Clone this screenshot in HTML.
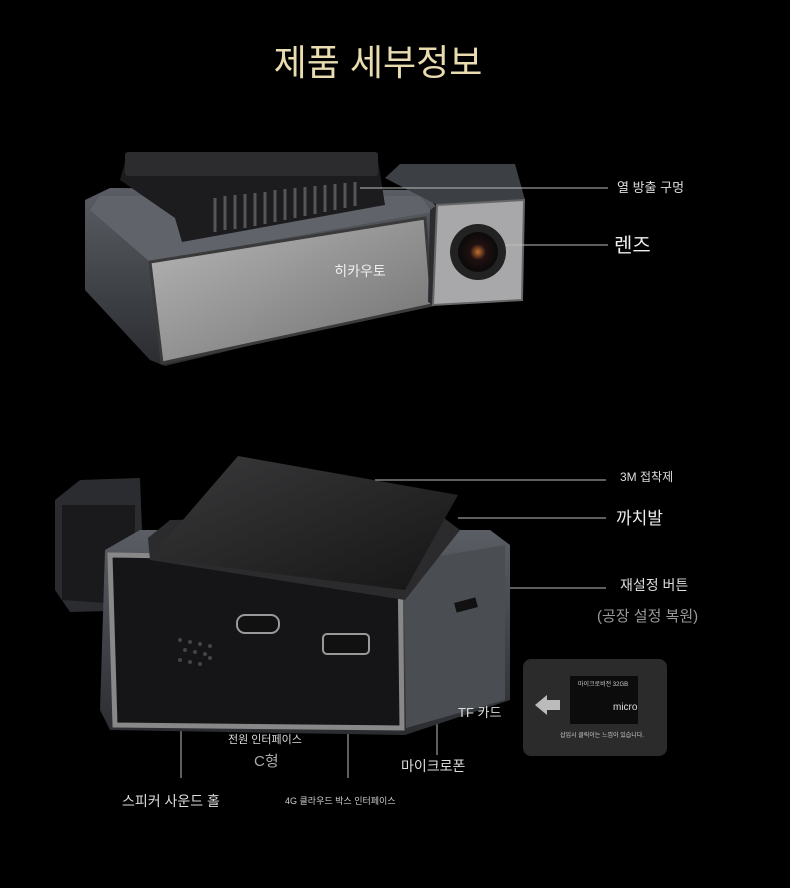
<!DOCTYPE html>
<html><head><meta charset="utf-8"><style>
body{margin:0;background:#000;width:790px;height:888px;overflow:hidden;font-family:"Liberation Sans","Noto Sans CJK KR",sans-serif}
svg{position:absolute;left:0;top:0}
</style></head><body>
<svg width="790" height="888" viewBox="0 0 790 888" font-family="Liberation Sans, Noto Sans CJK KR, sans-serif">
<defs>
<linearGradient id="sil" x1="0" y1="0" x2="1" y2="1"><stop offset="0" stop-color="#b8b8b8"/><stop offset="1" stop-color="#6e6e6e"/></linearGradient>
<linearGradient id="body" x1="0" y1="0" x2="0" y2="1"><stop offset="0" stop-color="#5a5e64"/><stop offset="1" stop-color="#2a2c30"/></linearGradient>
<linearGradient id="pad" x1="0" y1="0" x2="1" y2="1"><stop offset="0" stop-color="#3a3a3c"/><stop offset="1" stop-color="#151515"/></linearGradient>
<radialGradient id="lens"><stop offset="0" stop-color="#c07030"/><stop offset="0.4" stop-color="#201010"/><stop offset="1" stop-color="#0a0a0a"/></radialGradient>
</defs>
<text x="378" y="75" fill="#e8dcb0" font-size="36" text-anchor="middle">제품 세부정보</text>

<!-- top camera -->
<polygon points="85,200 110,188 420,190 440,210 432,302 165,366 150,360 85,290" fill="url(#body)"/>
<polygon points="100,196 420,196 432,212 150,262 90,210" fill="#60646a"/>
<polygon points="120,180 125,162 378,160 385,205 182,242 175,218" fill="#1c1c1e"/>
<rect x="125" y="152" width="253" height="24" fill="#2c2c2e" rx="3"/>
<g stroke="#555" stroke-width="3">
<line x1="215" y1="198" x2="215" y2="232"/><line x1="225" y1="196" x2="225" y2="230"/><line x1="235" y1="195" x2="235" y2="229"/><line x1="245" y1="194" x2="245" y2="228"/><line x1="255" y1="193" x2="255" y2="226"/><line x1="265" y1="192" x2="265" y2="224"/><line x1="275" y1="190" x2="275" y2="222"/><line x1="285" y1="189" x2="285" y2="220"/><line x1="295" y1="188" x2="295" y2="218"/><line x1="305" y1="187" x2="305" y2="216"/><line x1="315" y1="186" x2="315" y2="214"/><line x1="325" y1="185" x2="325" y2="212"/><line x1="335" y1="184" x2="335" y2="210"/><line x1="345" y1="183" x2="345" y2="208"/><line x1="355" y1="182" x2="355" y2="206"/>
</g>
<polygon points="150,262 425,218 432,305 162,363" fill="url(#sil)" stroke="#3a3a3a" stroke-width="3"/>
<polygon points="385,178 400,164 515,164 525,200 437,205" fill="#3c3f44"/>
<polygon points="430,210 437,205 433,305 428,302" fill="#2a2c30"/>
<polygon points="437,205 524,200 522,300 433,305" fill="#a8a8aa" stroke="#666" stroke-width="2"/>
<circle cx="478" cy="252" r="28" fill="#222"/><circle cx="478" cy="252" r="20" fill="url(#lens)"/>
<text x="360" y="276" fill="#eee" font-size="14" text-anchor="middle">히카우토</text>
<g stroke="#bbb" stroke-width="1" fill="none">
<line x1="360" y1="188" x2="608" y2="188"/><line x1="505" y1="245" x2="608" y2="245"/>
<line x1="375" y1="480" x2="606" y2="480"/><line x1="458" y1="518" x2="606" y2="518"/><line x1="500" y1="588" x2="606" y2="588"/>
<line x1="181" y1="650" x2="181" y2="778"/><line x1="269" y1="630" x2="269" y2="720"/><line x1="348" y1="655" x2="348" y2="778"/>
<line x1="437" y1="630" x2="437" y2="755"/><line x1="481" y1="620" x2="481" y2="700"/>
</g>
<text x="617" y="192" fill="#ddd" font-size="13">열 방출 구멍</text>
<text x="614" y="252" fill="#eee" font-size="20">렌즈</text>

<!-- bottom camera -->
<polygon points="55,500 80,480 140,478 145,610 70,612 55,590" fill="#2a2c30"/>
<polygon points="62,505 135,505 135,605 62,600" fill="#1a1a1c"/>
<polygon points="105,550 140,530 490,530 510,545 510,700 405,735 110,730 100,710" fill="url(#body)"/>
<polygon points="110,555 400,560 402,728 115,725" fill="#151517" stroke="#888" stroke-width="5"/>
<polygon points="404,562 505,545 505,700 406,728" fill="#4a4d52"/>
<rect x="455" y="600" width="22" height="10" fill="#111" transform="rotate(-15 466 605)"/>
<polygon points="148,538 170,520 440,515 460,530 405,600 150,560" fill="#2b2b2d"/>
<line x1="170" y1="550" x2="395" y2="568" stroke-dasharray="2,3" stroke-width="10" stroke="#555"/>
<polygon points="238,456 458,495 405,590 150,558" fill="url(#pad)"/>
<rect x="237" y="615" width="42" height="18" rx="8" fill="#111" stroke="#999" stroke-width="2"/>
<rect x="323" y="634" width="46" height="20" rx="4" fill="#111" stroke="#999" stroke-width="2"/>
<g fill="#444"><circle cx="180" cy="640" r="2"/><circle cx="190" cy="642" r="2"/><circle cx="200" cy="644" r="2"/><circle cx="210" cy="646" r="2"/><circle cx="185" cy="650" r="2"/><circle cx="195" cy="652" r="2"/><circle cx="205" cy="654" r="2"/><circle cx="180" cy="660" r="2"/><circle cx="190" cy="662" r="2"/><circle cx="200" cy="664" r="2"/><circle cx="210" cy="658" r="2"/></g>
<text x="620" y="481" fill="#ddd" font-size="12">3M 접착제</text>
<text x="616" y="524" fill="#eee" font-size="17">까치발</text>
<text x="620" y="590" fill="#ddd" font-size="14">재설정 버튼</text>
<text x="597" y="621" fill="#999" font-size="15">(공장 설정 복원)</text>
<text x="458" y="717" fill="#ddd" font-size="13">TF 카드</text>
<text x="228" y="743" fill="#ddd" font-size="11">전원 인터페이스</text>
<text x="254" y="766" fill="#aaa" font-size="15">C형</text>
<text x="401" y="771" fill="#ddd" font-size="14">마이크로폰</text>
<text x="122" y="806" fill="#ddd" font-size="14">스피커 사운드 홀</text>
<text x="285" y="804" fill="#ccc" font-size="9">4G 클라우드 박스 인터페이스</text>

<rect x="523" y="659" width="144" height="97" rx="8" fill="#2b2b2b"/>
<rect x="570" y="676" width="68" height="48" fill="#0c0c0c"/>
<text x="578" y="686" fill="#ccc" font-size="6">마이크로비전 32GB</text>
<text x="613" y="710" fill="#ddd" font-size="10">micro</text>
<polygon points="535,705 547,695 547,700 560,700 560,710 547,710 547,715" fill="#bbb"/>
<text x="560" y="737" fill="#ccc" font-size="6">삽입시 클릭이는 느낌이 있습니다.</text>
</svg>
</body></html>
